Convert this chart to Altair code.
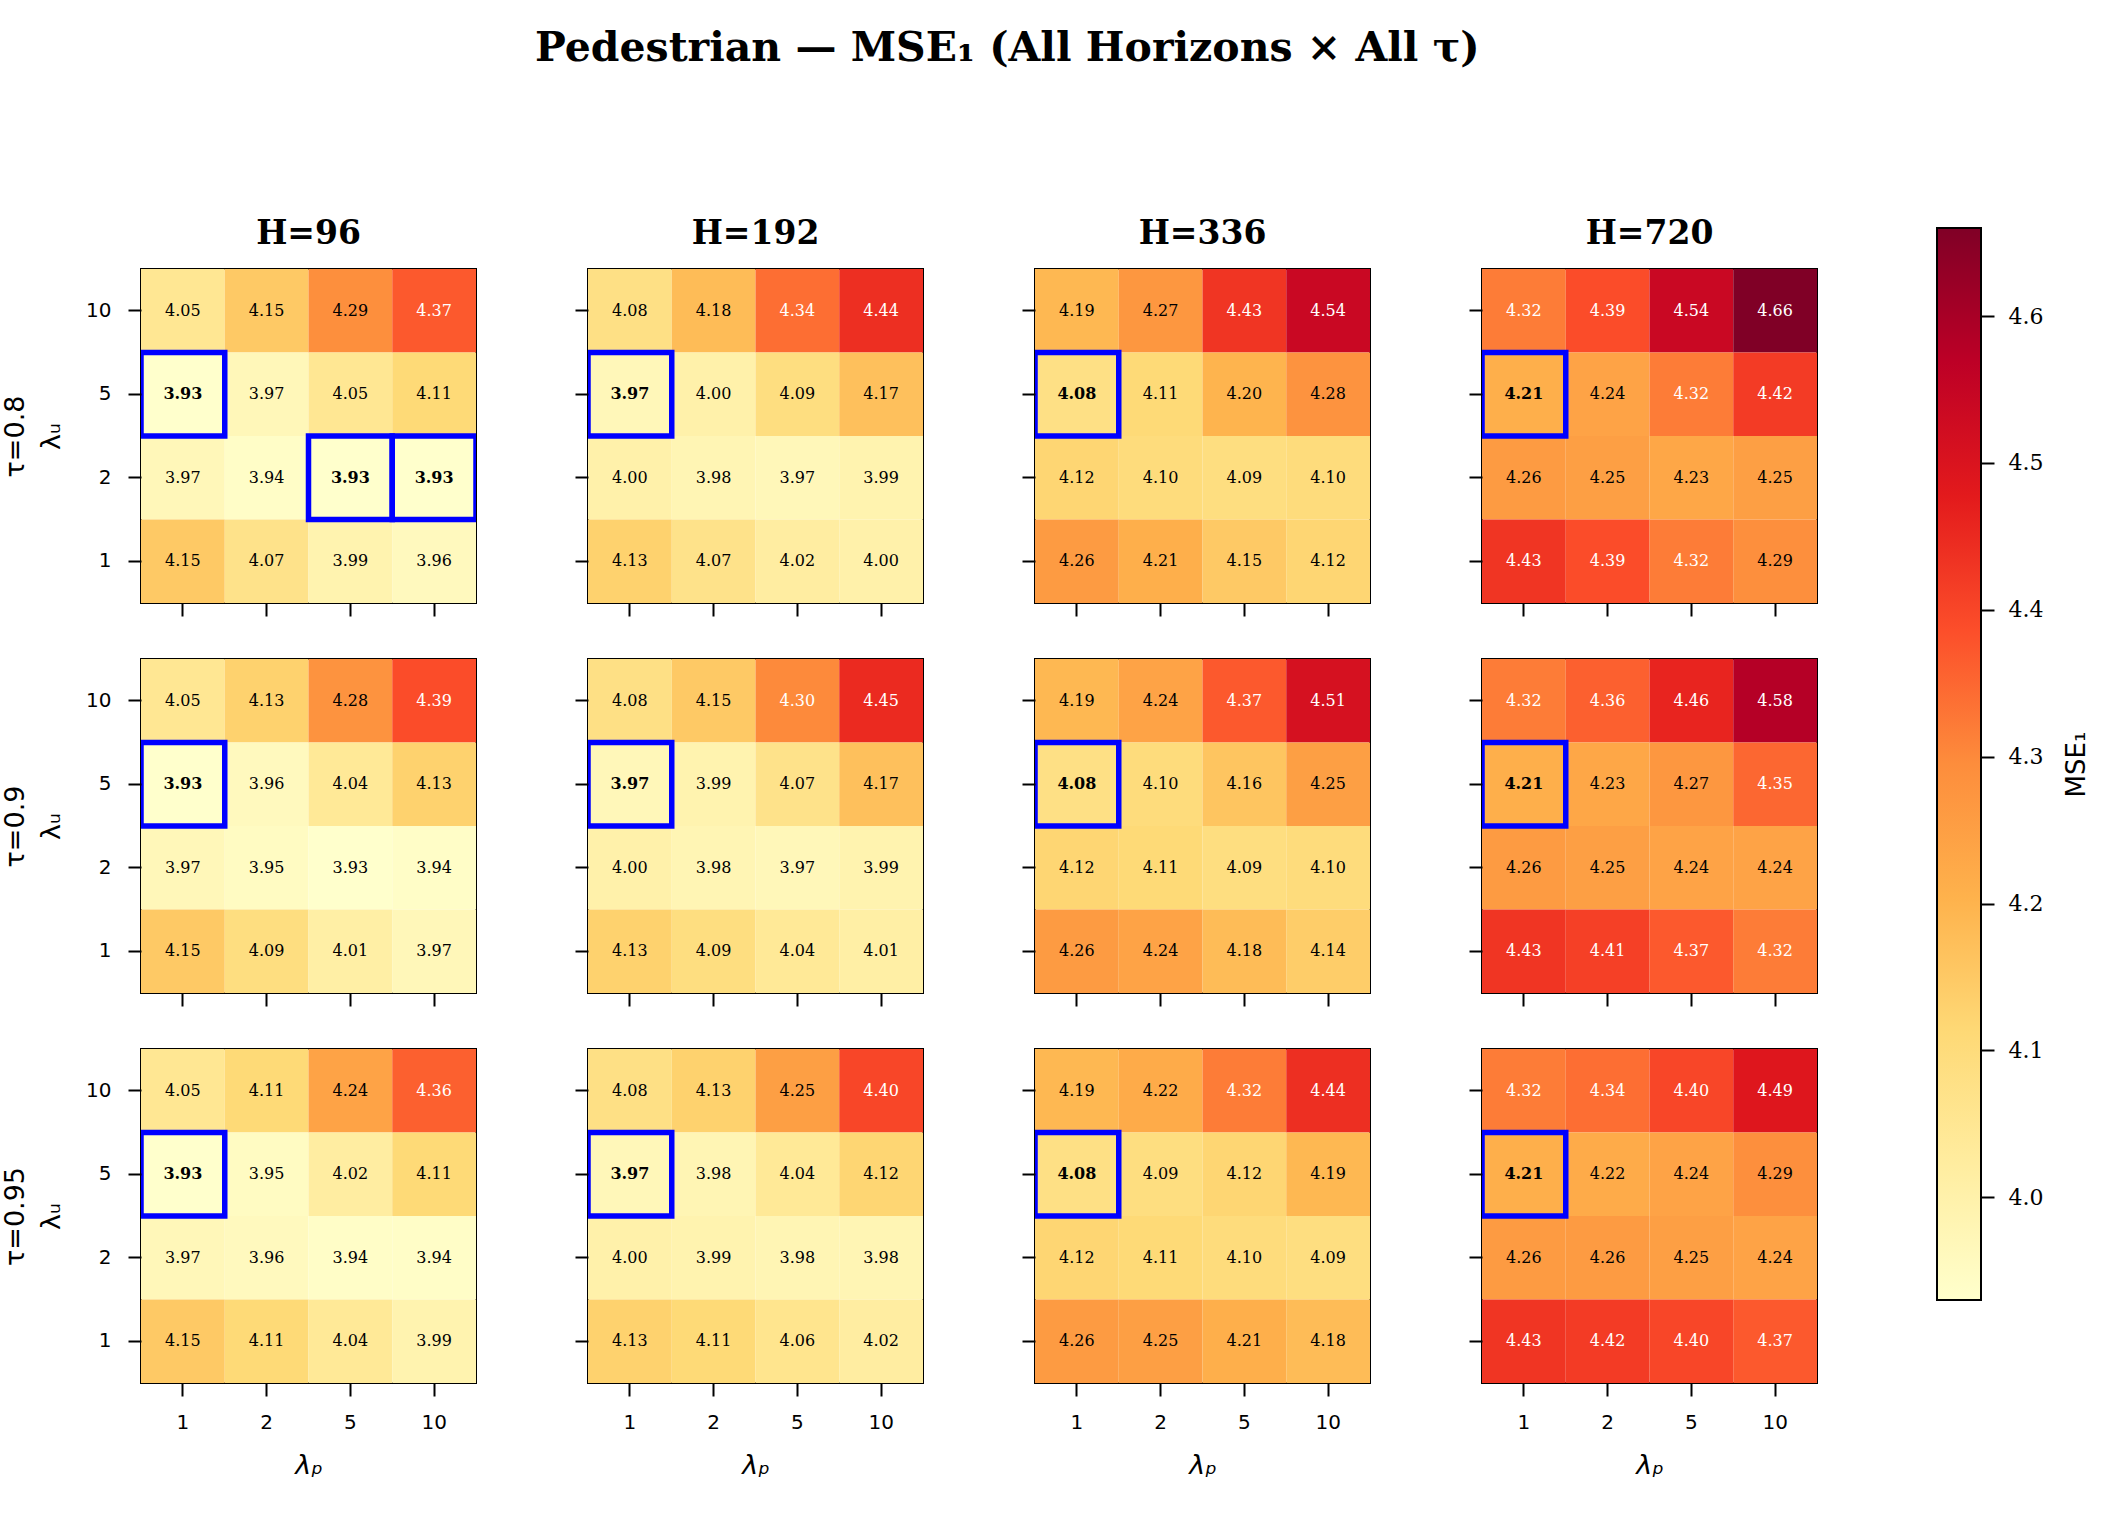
import altair as alt
import numpy as np
import pandas as pd

# Grid axes: λ_u runs down the rows (top to bottom), λ_p across the columns
taus = ["0.8", "0.9", "0.95"]
horizons = [96, 192, 336, 720]
lam_u = ["10", "5", "2", "1"]
lam_p = ["1", "2", "5", "10"]

# MSE_1 per (τ, H); each inner list is one λ_u row, in lam_u order
t080_h96 = [[4.05, 4.15, 4.29, 4.37], [3.93, 3.97, 4.05, 4.11], [3.97, 3.94, 3.93, 3.93], [4.15, 4.07, 3.99, 3.96]]
t080_h192 = [[4.08, 4.18, 4.34, 4.44], [3.97, 4.00, 4.09, 4.17], [4.00, 3.98, 3.97, 3.99], [4.13, 4.07, 4.02, 4.00]]
t080_h336 = [[4.19, 4.27, 4.43, 4.54], [4.08, 4.11, 4.20, 4.28], [4.12, 4.10, 4.09, 4.10], [4.26, 4.21, 4.15, 4.12]]
t080_h720 = [[4.32, 4.39, 4.54, 4.66], [4.21, 4.24, 4.32, 4.42], [4.26, 4.25, 4.23, 4.25], [4.43, 4.39, 4.32, 4.29]]

t090_h96 = [[4.05, 4.13, 4.28, 4.39], [3.93, 3.96, 4.04, 4.13], [3.97, 3.95, 3.93, 3.94], [4.15, 4.09, 4.01, 3.97]]
t090_h192 = [[4.08, 4.15, 4.30, 4.45], [3.97, 3.99, 4.07, 4.17], [4.00, 3.98, 3.97, 3.99], [4.13, 4.09, 4.04, 4.01]]
t090_h336 = [[4.19, 4.24, 4.37, 4.51], [4.08, 4.10, 4.16, 4.25], [4.12, 4.11, 4.09, 4.10], [4.26, 4.24, 4.18, 4.14]]
t090_h720 = [[4.32, 4.36, 4.46, 4.58], [4.21, 4.23, 4.27, 4.35], [4.26, 4.25, 4.24, 4.24], [4.43, 4.41, 4.37, 4.32]]

t095_h96 = [[4.05, 4.11, 4.24, 4.36], [3.93, 3.95, 4.02, 4.11], [3.97, 3.96, 3.94, 3.94], [4.15, 4.11, 4.04, 3.99]]
t095_h192 = [[4.08, 4.13, 4.25, 4.40], [3.97, 3.98, 4.04, 4.12], [4.00, 3.99, 3.98, 3.98], [4.13, 4.11, 4.06, 4.02]]
t095_h336 = [[4.19, 4.22, 4.32, 4.44], [4.08, 4.09, 4.12, 4.19], [4.12, 4.11, 4.10, 4.09], [4.26, 4.25, 4.21, 4.18]]
t095_h720 = [[4.32, 4.34, 4.40, 4.49], [4.21, 4.22, 4.24, 4.29], [4.26, 4.26, 4.25, 4.24], [4.43, 4.42, 4.40, 4.37]]

# Best (lowest) cells per panel: (τ, H, λ_u, λ_p)
best_cells = [
    ("0.8", 96, "5", "1"), ("0.8", 96, "2", "5"), ("0.8", 96, "2", "10"),
    ("0.8", 192, "5", "1"), ("0.8", 336, "5", "1"), ("0.8", 720, "5", "1"),
    ("0.9", 96, "5", "1"), ("0.9", 192, "5", "1"), ("0.9", 336, "5", "1"), ("0.9", 720, "5", "1"),
    ("0.95", 96, "5", "1"), ("0.95", 192, "5", "1"), ("0.95", 336, "5", "1"), ("0.95", 720, "5", "1"),
]

cbar_ticks = [4.0, 4.1, 4.2, 4.3, 4.4, 4.5, 4.6]

grids = {
    ("0.8", 96): t080_h96, ("0.8", 192): t080_h192, ("0.8", 336): t080_h336, ("0.8", 720): t080_h720,
    ("0.9", 96): t090_h96, ("0.9", 192): t090_h192, ("0.9", 336): t090_h336, ("0.9", 720): t090_h720,
    ("0.95", 96): t095_h96, ("0.95", 192): t095_h192, ("0.95", 336): t095_h336, ("0.95", 720): t095_h720,
}

records = []
for (tau, h), grid in grids.items():
    for i, lu in enumerate(lam_u):
        for j, lp in enumerate(lam_p):
            records.append({
                "tau": tau, "H": h, "lu": lu, "lp": lp, "mse": grid[i][j],
                "best": (tau, h, lu, lp) in best_cells,
            })
df = pd.DataFrame(records)

vmin, vmax = float(df.mse.min()), float(df.mse.max())
mid = (vmin + vmax) / 2

# YlOrRd colour map
ylorrd = ["#ffffcc", "#ffeda0", "#fed976", "#feb24c", "#fd8d3c",
          "#fc4e2a", "#e31a1c", "#bd0026", "#800026"]
color_scale = alt.Scale(domain=list(np.linspace(vmin, vmax, len(ylorrd))),
                        range=ylorrd, interpolate="rgb")

PW, PH = 335, 334
TICK = 13
SERIF = "DejaVu Serif"
SANS = "DejaVu Sans"


def panel(tau, h, r, c):
    sub = df[(df.tau == tau) & (df.H == h)]
    first_col = c == 0
    last_row = r == len(taus) - 1

    x_axis = alt.Axis(
        labels=last_row, ticks=True, tickSize=TICK, tickWidth=2, tickColor="black",
        domain=False, labelAngle=0, labelFont=SANS, labelFontSize=20, labelColor="black",
        labelPadding=16, title="λₚ" if last_row else None,
        titleFont=SANS, titleFontSize=27, titleFontWeight="normal", titleFontStyle="italic",
        titlePadding=20, titleColor="black",
    )
    y_axis = alt.Axis(
        labels=first_col, ticks=True, tickSize=TICK, tickWidth=2, tickColor="black",
        domain=False, labelFont=SANS, labelFontSize=20, labelColor="black",
        labelPadding=17, title=[f"τ={tau}", "λᵤ"] if first_col else None,
        titleFont=SANS, titleFontSize=27, titleFontWeight="normal", titleLineHeight=36,
        titlePadding=20, titleColor="black",
    )
    x = alt.X("lp:O", sort=lam_p, scale=alt.Scale(paddingInner=0, paddingOuter=0), axis=x_axis)
    y = alt.Y("lu:O", sort=lam_u, scale=alt.Scale(paddingInner=0, paddingOuter=0), axis=y_axis)

    base = alt.Chart(sub)
    cells = base.mark_rect().encode(
        x=x, y=y, color=alt.Color("mse:Q", scale=color_scale, legend=None)
    )
    txt_color = alt.condition(f"datum.mse > {mid}", alt.value("white"), alt.value("black"))
    labels = base.transform_filter("!datum.best").mark_text(
        font=SERIF, fontSize=16
    ).encode(x=x, y=y, text=alt.Text("mse:Q", format=".2f"), color=txt_color)
    best_labels = base.transform_filter("datum.best").mark_text(
        font=SERIF, fontSize=16, fontWeight="bold"
    ).encode(x=x, y=y, text=alt.Text("mse:Q", format=".2f"), color=txt_color)
    boxes = base.transform_filter("datum.best").mark_rect(
        fillOpacity=0, stroke="#0000ff", strokeWidth=5.5, clip=True
    ).encode(x=x, y=y)

    layer = alt.layer(cells, labels, best_labels, boxes).properties(width=PW, height=PH)
    if r == 0:
        layer = layer.properties(title=alt.TitleParams(
            f"H={h}", font=SERIF, fontSize=33, fontWeight="bold", color="black",
            anchor="middle", frame="group", offset=18,
        ))
    return layer


rows = [alt.hconcat(*[panel(t, h, r, c) for c, h in enumerate(horizons)], spacing=96)
        for r, t in enumerate(taus)]
main = alt.vconcat(*rows, spacing=40)

# Colour bar: one gradient-filled rectangle spanning the colour range,
# raised a little above the top row of panels
CB_LEN, CB_RAISE = 1072, 41
cbar_df = pd.DataFrame({"lo": [vmin], "hi": [vmax]})
gradient = alt.LinearGradient(
    gradient="linear",
    stops=[alt.GradientStop(color=c, offset=i / (len(ylorrd) - 1)) for i, c in enumerate(ylorrd)],
    x1=0, x2=0, y1=1, y2=0,
)
cbar = alt.Chart(cbar_df).mark_rect(fill=gradient, stroke="black", strokeWidth=2).encode(
    x=alt.value(0), x2=alt.value(44),
    y=alt.Y("lo:Q",
            scale=alt.Scale(domain=[vmin, vmax], range=[CB_LEN - CB_RAISE, -CB_RAISE],
                            nice=False, zero=False),
            axis=alt.Axis(orient="right", values=cbar_ticks, format=".1f", grid=False,
                          domain=False, tickSize=TICK, tickWidth=2, tickColor="black",
                          labelFont=SERIF, labelFontSize=22, labelColor="black", labelPadding=14,
                          title="MSE₁", titleFont=SANS, titleFontSize=26,
                          titleFontWeight="normal", titleAngle=270, titleBaseline="top",
                          titlePadding=21, titleColor="black")),
    y2="hi",
).properties(width=44, height=CB_LEN - CB_RAISE,
             view=alt.ViewBackground(stroke="transparent"))

chart = alt.hconcat(main, cbar, spacing=117).properties(
    title=alt.TitleParams(
        "Pedestrian — MSE₁ (All Horizons × All τ)", font=SERIF, fontSize=41,
        fontWeight="bold", color="black", anchor="start", frame="group", dx=394, offset=147,
    ),
    padding={"left": 0, "top": 28, "right": 5, "bottom": 5},
    background="white",
).configure_view(stroke="black", strokeWidth=2)

chart.save("out.html", embed_options={"renderer": "svg", "actions": False})
